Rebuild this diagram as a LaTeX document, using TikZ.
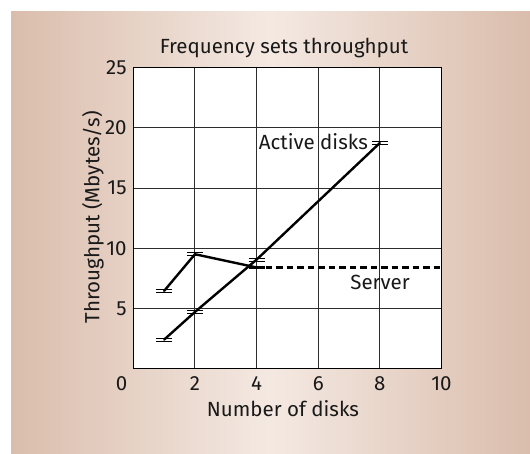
\documentclass[tikz,border=0pt]{standalone}
\usepackage{fontspec}
\setmainfont{Fira Sans}
\definecolor{bgedge}{RGB}{218,189,172}
\definecolor{bgmid}{RGB}{244,233,226}
\definecolor{gridc}{RGB}{45,45,45}
\definecolor{inkc}{RGB}{25,25,25}
\tikzset{
  lbl/.style={inner sep=0pt, font=\fontsize{20.5}{22}\selectfont, text=inkc},
  gridline/.style={draw=gridc, line width=0.9pt},
  dataline/.style={draw=black, line width=2.4pt, line cap=round},
  dashline/.style={draw=black, line width=2.4pt, dash pattern=on 6.5pt off 4pt},
  barline/.style={draw=black, line width=0.9pt},
}
\newcommand\errpair[1]{%
  \draw[barline] ([xshift=-8pt,yshift=1.5pt]#1) -- ([xshift=8pt,yshift=1.5pt]#1);
  \draw[barline] ([xshift=-8pt,yshift=-1.5pt]#1) -- ([xshift=8pt,yshift=-1.5pt]#1);}
\begin{document}
\begin{tikzpicture}[x=1pt,y=-1pt]
\useasboundingbox (0,0) rectangle (530,453);
\shade[left color=bgedge, right color=bgedge, middle color=bgmid] (11,11) rectangle (530,453);
\node[lbl] (title) at (284,48) {Frequency sets throughput};
\node[lbl, rotate=90] (ylab) at (93,217) {Throughput (Mbytes/s)};
\node[lbl] (xlab) at (283,409) {Number of disks};
\begin{scope}[shift={(133.3,368.5)}, x=30.82pt, y=12.03pt]
  \fill[white] (0,0) rectangle (10,25);
  \foreach \v in {2,4,6,8} \draw[gridline] (\v,0) -- (\v,25);
  \foreach \v in {5,10,15,20} \draw[gridline] (0,\v) -- (10,\v);
  \draw[black, line width=1.1pt] (0,0) rectangle (10,25);
  \foreach \v in {5,10,15,20,25} \node[lbl, anchor=east] (yt\v) at ([xshift=-6.5pt]0,\v) {\v};
  \node[lbl] (xt0) at ([xshift=-11.6pt,yshift=-15pt]0,0) {0};
  \foreach \v in {2,4,6,8,10} \node[lbl] (xt\v) at ([yshift=-15pt]\v,0) {\v};
  % data
  \coordinate (a1) at (1,2.4);
  \coordinate (a2) at (2,4.7);
  \coordinate (a3) at (4,9.05);
  \coordinate (a4) at (8,18.75);
  \coordinate (s1) at (1,6.45);
  \coordinate (s2) at (2,9.5);
  \coordinate (s3) at (4,8.4);
  \coordinate (s4) at (10,8.4);
  \draw[dataline] (a1) -- (a2) -- (a3) -- (a4);
  \draw[dataline] (s1) -- (s2) -- (s3);
  \draw[dashline] ([xshift=9pt]s3) -- (s4);
  \foreach \p in {a1,a2,a3,a4,s1,s2} {\errpair{\p}}
  \fill[black] ([xshift=-8pt,yshift=-1.8pt]s3) rectangle ([xshift=8pt,yshift=1.8pt]s3);
\end{scope}
\node[lbl, anchor=east] (active) at (368,142) {Active disks};
\node[lbl] (server) at (380,282) {Server};
\end{tikzpicture}
\end{document}
